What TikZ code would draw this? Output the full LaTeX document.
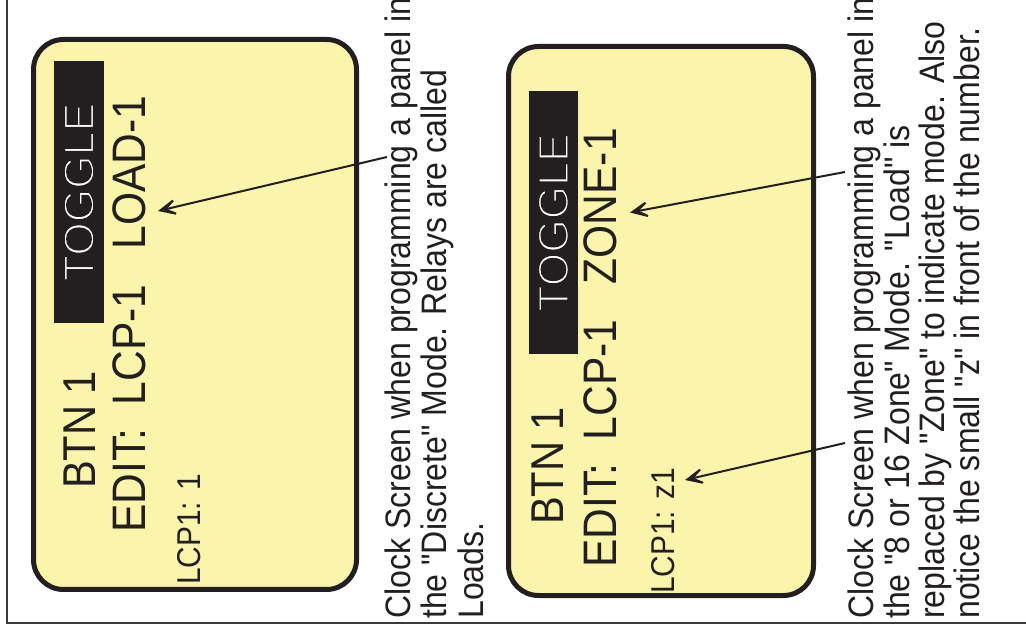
\documentclass[tikz,border=0pt]{standalone}
\usepackage{fontspec}
\newfontfamily\lcdfont{Liberation Sans}[FakeStretch=0.905]
\newfontfamily\togglefont{Liberation Sans}
\usetikzlibrary{arrows.meta}
\definecolor{ScreenYellow}{HTML}{FBF5AB}
\definecolor{InkBlack}{HTML}{231F20}
\definecolor{FrameGray}{HTML}{3A3A3A}
\tikzset{
  screenbox/.style={draw=InkBlack,line width=5pt,fill=ScreenYellow,rounded corners=30pt,inner sep=0pt},
  hilite/.style={fill=InkBlack,text=white,inner sep=0pt,rotate=90},
  lcdline/.style={rotate=90,anchor=base west,inner sep=0pt,text=InkBlack},
  notetext/.style={rotate=90,anchor=north west,inner sep=0pt,align=left,text=InkBlack},
  pointer/.style={-{Stealth[length=27pt,width=25pt,inset=18pt]},line width=2pt,draw=InkBlack}
}
\newcommand{\bigline}{\lcdfont\fontsize{46}{50}\selectfont}
\newcommand{\midline}{\lcdfont\fontsize{47}{50}\selectfont}
\newcommand{\smallline}{\lcdfont\fontsize{33}{36}\selectfont}
% thin white lettering: fill white, stroke the outline in the highlight black
\newcommand{\togglebox}{{\togglefont\fontsize{43}{43}\selectfont
  \special{pdf:literal direct 2 Tr 0.137 0.122 0.125 RG 1.9 w}TOGGLE\special{pdf:literal direct 0 Tr}}}

\begin{document}
\begin{tikzpicture}[x=1pt,y=1pt]
\useasboundingbox (0,0) rectangle (1026,635);
% outer frame
\draw[FrameGray,line width=2pt] (7,640) -- (7,12) -- (1030,12);

% discrete mode screen
\node[screenbox,minimum width=323pt,minimum height=550pt] (scrL) at (195,320.5) {};
\node[hilite,minimum width=262pt,minimum height=50pt] (togL) at (79,443) {\togglebox};
\node[lcdline,font=\bigline] (btnL) at (95,146) {BTN 1};
\node[lcdline,font=\midline] (editL) at (145.7,102) {EDIT:~~LCP-1~~~LOAD-1};
\node[lcdline,font=\smallline] (lcpL) at (200,50) {LCP1: 1};
\node[notetext,font=\lcdfont\fontsize{35.4}{36.5}\selectfont] (noteL) at (384.5,16)
  {Clock Screen when programming a panel in\\the "Discrete" Mode. Relays are called\\Loads.};

% zone mode screen
\node[screenbox,minimum width=305pt,minimum height=549pt] (scrR) at (661,314) {};
\node[hilite,minimum width=263pt,minimum height=49.6pt] (togR) at (553.4,412.5) {\togglebox};
\node[lcdline,font=\bigline] (btnR) at (563.5,110) {BTN 1};
\node[lcdline,font=\midline] (editR) at (616.5,67) {EDIT:~~LCP-1~~~ZONE-1};
\node[lcdline,font=\smallline] (lcpR) at (674,41) {LCP1: z1};
\node[notetext,font=\lcdfont\fontsize{35.4}{35.3}\selectfont] (noteR) at (848,16)
  {Clock Screen when programming a panel in\\the "8 or 16 Zone" Mode. "Load" is\\replaced by "Zone" to indicate mode. Also\\notice the small "z" in front of the number.};

% pointers
\coordinate (tailL) at (387,478);
\coordinate (tipLoad) at (158,424);
\coordinate (tailR) at (845,463);
\coordinate (tipZone) at (630,422.5);
\coordinate (tailZ) at (845,192);
\coordinate (tipZ) at (685,155);
\draw[pointer] (tailL) -- (tipLoad);
\draw[pointer] (tailR) -- (tipZone);
\draw[pointer] (tailZ) -- (tipZ);
\end{tikzpicture}
\end{document}
